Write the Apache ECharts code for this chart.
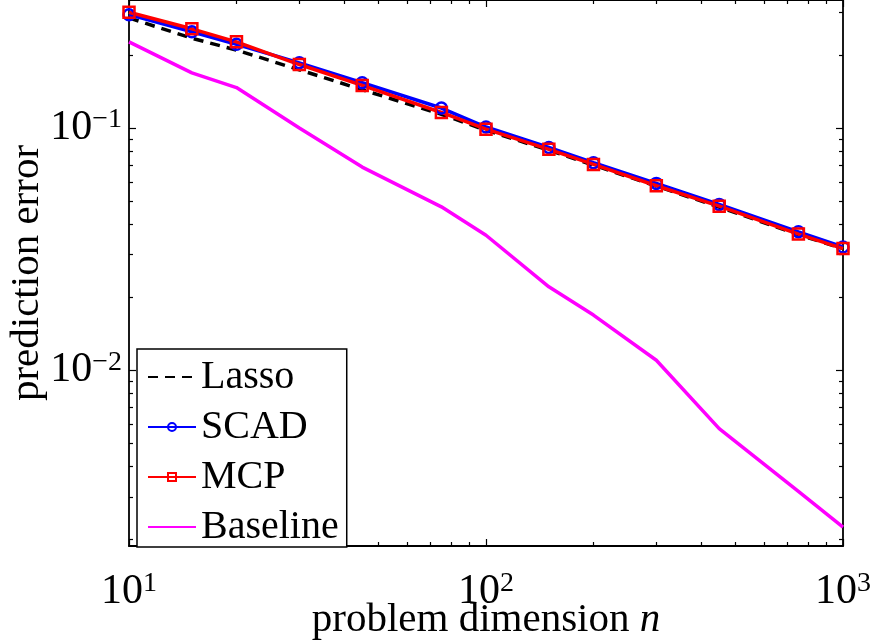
<!DOCTYPE html>
<html><head><meta charset="utf-8">
<script src="https://cdn.jsdelivr.net/npm/echarts@6/dist/echarts.min.js"></script>
<style>html,body{margin:0;padding:0;background:#fff}#c{width:871px;height:644px}</style>
</head><body><div id="c"></div>
<script>
const dims = [10, 15, 20, 30, 45, 75, 100, 150, 200, 300, 450, 750, 1000];
const lasso = [0.285, 0.235, 0.210, 0.174, 0.144, 0.114, 0.098, 0.081, 0.0703, 0.0576, 0.0472, 0.0363, 0.0318];
const scad = [0.294, 0.250, 0.222, 0.186, 0.154, 0.121, 0.101, 0.0832, 0.0719, 0.0591, 0.0484, 0.0373, 0.0323];
const mcp = [0.301, 0.257, 0.227, 0.183, 0.150, 0.116, 0.099, 0.0817, 0.0708, 0.0578, 0.0476, 0.0365, 0.0318];
const baseline = [0.227, 0.169, 0.147, 0.100, 0.069, 0.0473, 0.0361, 0.0221, 0.0169, 0.0110, 0.00574, 0.00316, 0.00225];
const seriesNames = ['Lasso', 'SCAD', 'MCP', 'Baseline'];
const xMajorTicks = [10, 100, 1000];
const xMinorTicks = [20, 30, 40, 50, 60, 70, 80, 90, 200, 300, 400, 500, 600, 700, 800, 900];
const yMajorTicks = [0.01, 0.1];
const yMinorTicks = [0.002, 0.003, 0.004, 0.005, 0.006, 0.007, 0.008, 0.009, 0.02, 0.03, 0.04, 0.05, 0.06, 0.07, 0.08, 0.09, 0.2, 0.3];
const xTitle = 'problem dimension {i|n}';
const yTitle = 'prediction error';

const FONT = 'Liberation Serif';
const X_MIN = 10, X_MAX = 1000, Y_MIN = 0.00188, Y_MAX = 0.338;

function pow10Label(v) {
  const e = Math.round(Math.log10(v));
  return '{b|10}{s|' + (e < 0 ? '\u2212' + (-e) : String(e)) + '}';
}
const labelRich = {
  b: { fontSize: 42, fontFamily: FONT, color: '#000', lineHeight: 44 },
  s: { fontSize: 28, fontFamily: FONT, color: '#000', lineHeight: 16, verticalAlign: 'top' }
};

function makeAxis(kind, position, major, withLabels, extra) {
  const isX = kind === 'x';
  const ax = {
    type: 'log', logBase: 10,
    position: position,
    min: isX ? X_MIN : Y_MIN,
    max: isX ? X_MAX : Y_MAX,
    splitLine: { show: false },
    axisLine: { show: major, onZero: false, lineStyle: { color: '#000', width: 1.8 } },
    axisTick: {
      show: true, inside: true, length: major ? 7 : 4,
      customValues: isX ? (major ? xMajorTicks : xMinorTicks) : (major ? yMajorTicks : yMinorTicks),
      lineStyle: { color: '#000', width: 1.2 }
    },
    axisLabel: withLabels ? {
      show: true,
      customValues: isX ? xMajorTicks : yMajorTicks,
      formatter: pow10Label,
      rich: labelRich,
      margin: isX ? 24 : 7
    } : { show: false },
    minorTick: { show: false },
    axisPointer: { show: false }
  };
  return Object.assign(ax, extra || {});
}

const xAxes = [
  makeAxis('x', 'bottom', true, true, {
    name: xTitle, nameLocation: 'middle', nameGap: 54, nameMoveOverlap: false,
    nameTextStyle: { fontSize: 41, fontFamily: FONT, color: '#000',
      rich: { i: { fontSize: 41, fontFamily: FONT, fontStyle: 'italic', color: '#000' } } }
  }),
  makeAxis('x', 'bottom', false, false),
  makeAxis('x', 'top', true, false),
  makeAxis('x', 'top', false, false)
];
const yAxes = [
  makeAxis('y', 'left', true, true, {
    name: yTitle, nameLocation: 'middle', nameGap: 81, nameMoveOverlap: false,
    nameTextStyle: { fontSize: 41, fontFamily: FONT, color: '#000' }
  }),
  makeAxis('y', 'left', false, false),
  makeAxis('y', 'right', true, false),
  makeAxis('y', 'right', false, false)
];

function pairs(vals) { return dims.map((d, i) => [d, vals[i]]); }

const chart = echarts.init(document.getElementById('c'), null, { renderer: 'canvas' });
chart.setOption({
  animation: false,
  backgroundColor: '#fff',
  grid: { left: 129, right: 28, top: 0, bottom: 98, containLabel: false, outerBoundsMode: 'none' },
  xAxis: xAxes,
  yAxis: yAxes,
  legend: {
    orient: 'vertical', left: 137, top: 349,
    backgroundColor: '#fff', borderColor: '#000', borderWidth: 1.5, borderRadius: 0,
    padding: [8, 8, 0, 10],
    itemWidth: 48, itemHeight: 10, itemGap: 10,
    textStyle: { fontSize: 40, fontFamily: FONT, color: '#000', lineHeight: 36 },
    data: [
      { name: seriesNames[0], itemStyle: { opacity: 0 } },
      { name: seriesNames[1] },
      { name: seriesNames[2] },
      { name: seriesNames[3], itemStyle: { opacity: 0 } }
    ]
  },
  series: [
    { name: seriesNames[0], type: 'line', data: pairs(lasso), symbol: 'none',
      lineStyle: { color: '#000', width: 3.5, type: [10, 7] }, itemStyle: { color: '#000' } },
    { name: seriesNames[1], type: 'line', data: pairs(scad), symbol: 'circle', symbolSize: 11,
      lineStyle: { color: '#0000ff', width: 3.5 }, itemStyle: { color: 'rgba(0,0,0,0)', borderColor: '#0000ff', borderWidth: 2.5 } },
    { name: seriesNames[2], type: 'line', data: pairs(mcp), symbol: 'rect', symbolSize: 11,
      lineStyle: { color: '#ff0000', width: 3.5 }, itemStyle: { color: 'rgba(0,0,0,0)', borderColor: '#ff0000', borderWidth: 2.5 } },
    { name: seriesNames[3], type: 'line', data: pairs(baseline), symbol: 'none',
      lineStyle: { color: '#ff00ff', width: 3.5 }, itemStyle: { color: '#ff00ff' } }
  ]
});
</script></body></html>
